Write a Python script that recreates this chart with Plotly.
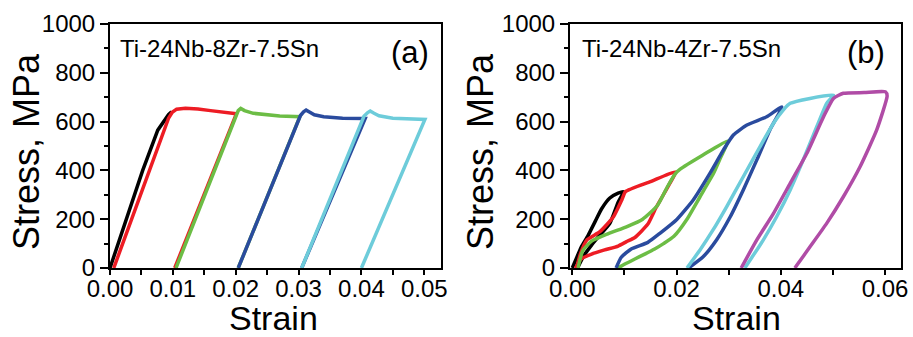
import plotly.graph_objects as go

# ---------------- Panel (a): Ti-24Nb-8Zr-7.5Sn ----------------
A_CYCLE1_STRAIN = [0, 0.0026, 0.0052, 0.0076, 0.0087, 0.0093, 0.0098]
A_CYCLE1_STRESS = [0, 200, 400, 565, 608, 628, 640]

A_CYCLE2_STRAIN = [0.0006, 0.0093, 0.0099, 0.0106, 0.012, 0.014, 0.016, 0.018, 0.0201, 0.0103]
A_CYCLE2_STRESS = [0, 613, 638, 651, 655, 652, 645, 637, 632, 0]

A_CYCLE3_STRAIN = [0.0105, 0.0200, 0.0204, 0.0208, 0.0214, 0.0228, 0.025, 0.027, 0.0302, 0.0204]
A_CYCLE3_STRESS = [0, 625, 645, 654, 645, 634, 627, 623, 620, 0]

A_CYCLE4_STRAIN = [0.0204, 0.0303, 0.0308, 0.0312, 0.0318, 0.0325, 0.034, 0.037, 0.0406, 0.0305]
A_CYCLE4_STRESS = [0, 625, 640, 647, 638, 628, 620, 614, 613, 0]

A_CYCLE5_STRAIN = [0.0305, 0.0404, 0.041, 0.0414, 0.042, 0.0428, 0.045, 0.048, 0.0501, 0.0400]
A_CYCLE5_STRESS = [0, 622, 637, 643, 634, 624, 614, 611, 609, 0]

# ---------------- Panel (b): Ti-24Nb-4Zr-7.5Sn ----------------
B_CYCLE1_STRAIN = [0, 0.0008, 0.0017, 0.003, 0.0043, 0.0056, 0.0072, 0.0088, 0.0098,
                   0.0088, 0.0072, 0.0053, 0.0037, 0.0022, 0.001]
B_CYCLE1_STRESS = [0, 40, 85, 132, 187, 242, 287, 307, 313,
                   270, 183, 135, 94, 50, 0]

B_CYCLE2_STRAIN = [0.0008, 0.0016, 0.0028, 0.0053, 0.0079, 0.0095, 0.0102, 0.015, 0.0199,
                   0.0187, 0.0172, 0.016, 0.0145, 0.012, 0.0104, 0.0088, 0.0062, 0.0037, 0.0017, 0.0006]
B_CYCLE2_STRESS = [0, 60, 115, 149, 210, 279, 313, 354, 395,
                   347, 290, 245, 180, 125, 108, 90, 74, 57, 37, 0]

B_CYCLE3_STRAIN = [0.0011, 0.002, 0.0037, 0.0068, 0.0105, 0.0135, 0.0163, 0.0183, 0.0197, 0.0207, 0.025, 0.0299,
                   0.0285, 0.0271, 0.0245, 0.022, 0.0195, 0.0175, 0.0158, 0.014, 0.012, 0.010, 0.0088]
B_CYCLE3_STRESS = [0, 71, 110, 140, 170, 200, 255, 335, 385, 405, 462, 522,
                   455, 388, 292, 200, 130, 100, 78, 58, 37, 15, 0]

B_CYCLE4_STRAIN = [0.0084, 0.0094, 0.0113, 0.0145, 0.0168, 0.02, 0.0232, 0.0264, 0.029, 0.0309, 0.0335, 0.0373, 0.0402,
                   0.0379, 0.0354, 0.0328, 0.0303, 0.0277, 0.0251, 0.0223]
B_CYCLE4_STRESS = [0, 44, 78, 105, 142, 198, 279, 388, 484, 545, 586, 620, 660,
                   566, 443, 320, 210, 116, 46, 0]

B_CYCLE5_STRAIN = [0.022, 0.0245, 0.027, 0.0296, 0.0328, 0.036, 0.0386, 0.0405, 0.0418, 0.0456, 0.0501,
                   0.0488, 0.0469, 0.0443, 0.0418, 0.0392, 0.0365, 0.0345, 0.0331]
B_CYCLE5_STRESS = [0, 74, 156, 251, 374, 497, 593, 648, 675, 695, 709,
                   675, 579, 443, 320, 210, 110, 45, 0]

B_CYCLE6_STRAIN = [0.0324, 0.0354, 0.0386, 0.0418, 0.045, 0.0482, 0.0501, 0.052, 0.056, 0.0601,
                   0.0604, 0.0584, 0.0552, 0.052, 0.0488, 0.0456, 0.0431, 0.0427]
B_CYCLE6_STRESS = [0, 115, 224, 347, 470, 620, 695, 716, 719, 722,
                   705, 566, 415, 292, 183, 87, 12, 0]

X_TICKS_A = [0.00, 0.01, 0.02, 0.03, 0.04, 0.05]
X_TICKS_B = [0.00, 0.02, 0.04, 0.06]
Y_TICKS = [0, 200, 400, 600, 800, 1000]

X_TITLE = "Strain"
Y_TITLE = "Stress, MPa"
LABEL_A = "Ti-24Nb-8Zr-7.5Sn"
LABEL_B = "Ti-24Nb-4Zr-7.5Sn"

COLORS = ["#000000", "#ED1C24", "#6CBD45", "#2A4B9E", "#6DCCDA", "#B04CA6"]

W, H = 913, 337
FONT = "Liberation Sans, Arial, sans-serif"

fig = go.Figure()

a_series = [(A_CYCLE1_STRAIN, A_CYCLE1_STRESS), (A_CYCLE2_STRAIN, A_CYCLE2_STRESS),
            (A_CYCLE3_STRAIN, A_CYCLE3_STRESS), (A_CYCLE4_STRAIN, A_CYCLE4_STRESS),
            (A_CYCLE5_STRAIN, A_CYCLE5_STRESS)]
b_series = [(B_CYCLE1_STRAIN, B_CYCLE1_STRESS), (B_CYCLE2_STRAIN, B_CYCLE2_STRESS),
            (B_CYCLE3_STRAIN, B_CYCLE3_STRESS), (B_CYCLE4_STRAIN, B_CYCLE4_STRESS),
            (B_CYCLE5_STRAIN, B_CYCLE5_STRESS), (B_CYCLE6_STRAIN, B_CYCLE6_STRESS)]

for i, (xs, ys) in enumerate(a_series):
    fig.add_trace(go.Scatter(x=xs, y=ys, mode="lines", xaxis="x", yaxis="y",
                             line=dict(color=COLORS[i], width=3.5, shape="linear"),
                             showlegend=False, hoverinfo="skip"))
for i, (xs, ys) in enumerate(b_series):
    fig.add_trace(go.Scatter(x=xs, y=ys, mode="lines", xaxis="x2", yaxis="y2",
                             line=dict(color=COLORS[i], width=3.5, shape="spline", smoothing=0.5),
                             showlegend=False, hoverinfo="skip"))

ydom = [1 - 268 / H, 1 - 24 / H]

common_axis = dict(showline=True, linecolor="black", linewidth=2, mirror=True,
                   ticks="outside", tickwidth=2, tickcolor="black", showgrid=False,
                   zeroline=False, automargin=False,
                   tickfont=dict(family=FONT, size=24, color="black"))

def xaxis(domain, rng, ticks, fmt, minor_dtick, anchor):
    return dict(common_axis, domain=domain, range=rng, tickvals=ticks,
                ticktext=[fmt.format(t) for t in ticks], ticklen=5,
                ticklabelstandoff=-7,
                minor=dict(dtick=minor_dtick, tick0=0, ticks="outside", ticklen=5,
                           tickwidth=2, tickcolor="black"),
                anchor=anchor)

def yaxis(anchor):
    return dict(common_axis, domain=ydom, range=[0, 1000], tickvals=Y_TICKS,
                ticktext=[str(t) for t in Y_TICKS], ticklen=8,
                minor=dict(dtick=100, tick0=0, ticks="outside", ticklen=4,
                           tickwidth=2, tickcolor="black"),
                anchor=anchor)

def text_ann(text, x, y, size, xanchor="center", yanchor="middle", angle=0):
    return dict(text=text, xref="paper", yref="paper", x=x / W, y=1 - y / H,
                xanchor=xanchor, yanchor=yanchor, showarrow=False, textangle=angle,
                font=dict(family=FONT, size=size, color="black"))

fig.update_layout(
    width=W, height=H,
    margin=dict(l=0, r=0, t=0, b=0),
    paper_bgcolor="white", plot_bgcolor="white",
    xaxis=xaxis([110 / W, 441 / W], [0, 0.05266], X_TICKS_A, "{:.2f}", 0.005, "y"),
    yaxis=yaxis("x"),
    xaxis2=xaxis([570 / W, 900.7 / W], [-0.00044, 0.0630], X_TICKS_B, "{:.2f}", 0.01, "y2"),
    yaxis2=yaxis("x2"),
    annotations=[
        text_ann(LABEL_A, 118, 48, 24, xanchor="left"),
        text_ann("(a)", 431, 52, 31, xanchor="right"),
        text_ann(LABEL_B, 580, 48, 24, xanchor="left"),
        text_ann("(b)", 887, 52, 31, xanchor="right"),
        text_ann(X_TITLE, 273, 318, 34),
        text_ann(X_TITLE, 736, 318, 34),
        text_ann(Y_TITLE, 26, 152, 36, angle=-90),
        text_ann(Y_TITLE, 480, 152, 36, angle=-90),
    ],
)

fig.write_html("out.html", config={"displayModeBar": False},
               post_script="document.body.style.margin='0px';document.body.style.overflow='hidden';")
